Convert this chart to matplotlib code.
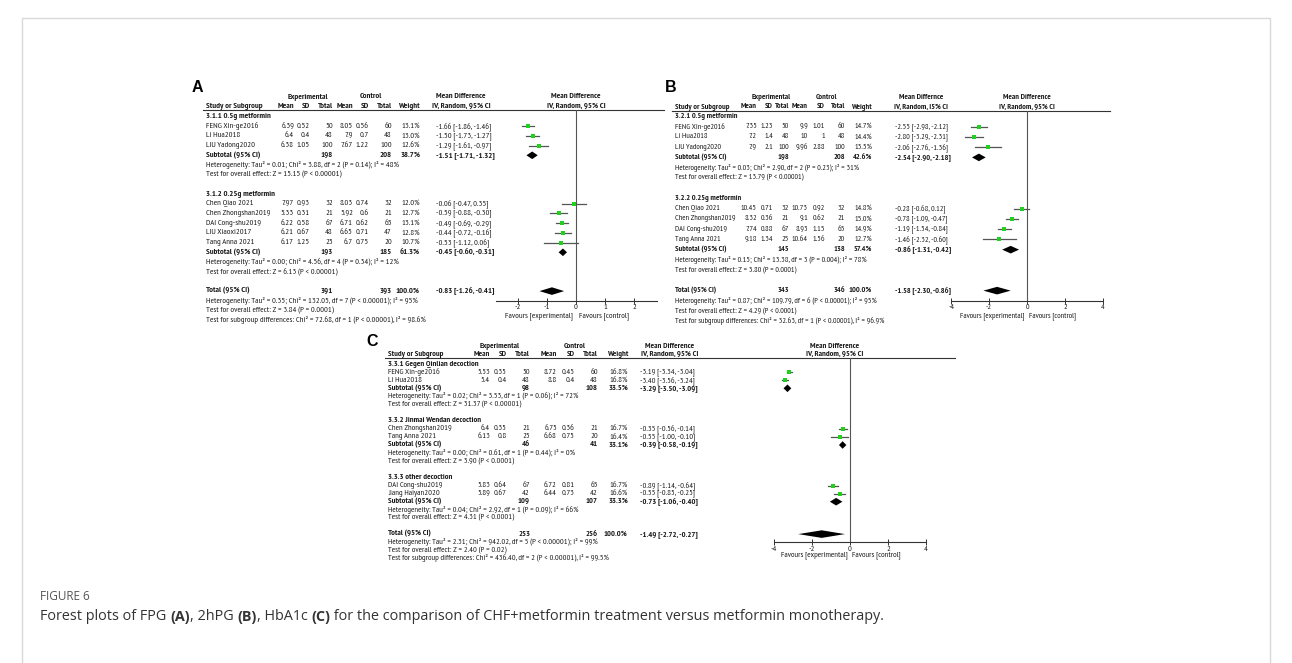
import numpy as np
import matplotlib.pyplot as plt
import matplotlib.transforms as mtransforms

plt.rcParams['axes.unicode_minus'] = False

# ---------- panel A : FPG ----------
a_groups = ["3.1.1 0.5g metformin", "3.1.2 0.25g metformin"]
a_group_n = [3, 5]
a_study = ["FENG Xin-ge2016", "Li Hua2018", "LIU Yadong2020", "Chen Qiao 2021",
           "Chen Zhongshan2019", "DAI Cong-shu2019", "LIU Xiaoxi2017", "Tang Anna 2021"]
a_exp_mean = [6.39, 6.4, 6.38, 7.97, 5.33, 6.22, 6.21, 6.17]
a_exp_sd = [0.52, 0.4, 1.05, 0.93, 0.31, 0.58, 0.67, 1.25]
a_exp_n = [50, 48, 100, 32, 21, 67, 48, 25]
a_ctl_mean = [8.05, 7.9, 7.67, 8.03, 5.92, 6.71, 6.65, 6.7]
a_ctl_sd = [0.56, 0.7, 1.22, 0.74, 0.6, 0.62, 0.71, 0.75]
a_ctl_n = [60, 48, 100, 32, 21, 65, 47, 20]
a_weight = [13.1, 13.0, 12.6, 12.0, 12.7, 13.1, 12.8, 10.7]
a_md = [-1.66, -1.50, -1.29, -0.06, -0.59, -0.49, -0.44, -0.53]
a_lo = [-1.86, -1.73, -1.61, -0.47, -0.88, -0.69, -0.72, -1.12]
a_hi = [-1.46, -1.27, -0.97, 0.35, -0.30, -0.29, -0.16, 0.06]
a_sub_exp_n = [198, 193]
a_sub_ctl_n = [208, 185]
a_sub_weight = [38.7, 61.3]
a_sub_md = [-1.51, -0.45]
a_sub_lo = [-1.71, -0.60]
a_sub_hi = [-1.32, -0.31]
a_sub_het = ["Heterogeneity: Tau² = 0.01; Chi² = 3.88, df = 2 (P = 0.14); I² = 48%",
             "Heterogeneity: Tau² = 0.00; Chi² = 4.56, df = 4 (P = 0.34); I² = 12%"]
a_sub_z = ["Test for overall effect: Z = 15.15 (P < 0.00001)",
           "Test for overall effect: Z = 6.13 (P < 0.00001)"]
a_total = [391, 393, 100.0, -0.83, -1.26, -0.41]
a_total_notes = ["Heterogeneity: Tau² = 0.35; Chi² = 132.05, df = 7 (P < 0.00001); I² = 95%",
                 "Test for overall effect: Z = 3.84 (P = 0.0001)",
                 "Test for subgroup differences: Chi² = 72.68, df = 1 (P < 0.00001), I² = 98.6%"]
a_ticks = [-2, -1, 0, 1, 2]

# ---------- panel B : 2hPG ----------
b_groups = ["3.2.1 0.5g metformin", "3.2.2 0.25g metformin"]
b_group_n = [3, 4]
b_study = ["FENG Xin-ge2016", "Li Hua2018", "LIU Yadong2020", "Chen Qiao 2021",
           "Chen Zhongshan2019", "DAI Cong-shu2019", "Tang Anna 2021"]
b_exp_mean = [7.35, 7.2, 7.9, 10.45, 8.32, 7.74, 9.18]
b_exp_sd = [1.23, 1.4, 2.1, 0.71, 0.36, 0.88, 1.34]
b_exp_n = [50, 48, 100, 32, 21, 67, 25]
b_ctl_mean = [9.9, 10, 9.96, 10.73, 9.1, 8.93, 10.64]
b_ctl_sd = [1.01, 1, 2.88, 0.92, 0.62, 1.15, 1.56]
b_ctl_n = [60, 48, 100, 32, 21, 65, 20]
b_weight = [14.7, 14.4, 13.5, 14.8, 15.0, 14.9, 12.7]
b_md = [-2.55, -2.80, -2.06, -0.28, -0.78, -1.19, -1.46]
b_lo = [-2.98, -3.29, -2.76, -0.68, -1.09, -1.54, -2.32]
b_hi = [-2.12, -2.31, -1.36, 0.12, -0.47, -0.84, -0.60]
b_sub_exp_n = [198, 145]
b_sub_ctl_n = [208, 138]
b_sub_weight = [42.6, 57.4]
b_sub_md = [-2.54, -0.86]
b_sub_lo = [-2.90, -1.31]
b_sub_hi = [-2.18, -0.42]
b_sub_het = ["Heterogeneity: Tau² = 0.03; Chi² = 2.90, df = 2 (P = 0.23); I² = 31%",
             "Heterogeneity: Tau² = 0.15; Chi² = 13.38, df = 3 (P = 0.004); I² = 78%"]
b_sub_z = ["Test for overall effect: Z = 13.79 (P < 0.00001)",
           "Test for overall effect: Z = 3.80 (P = 0.0001)"]
b_total = [343, 346, 100.0, -1.58, -2.30, -0.86]
b_total_notes = ["Heterogeneity: Tau² = 0.87; Chi² = 109.79, df = 6 (P < 0.00001); I² = 95%",
                 "Test for overall effect: Z = 4.29 (P < 0.0001)",
                 "Test for subgroup differences: Chi² = 32.63, df = 1 (P < 0.00001), I² = 96.9%"]
b_ticks = [-4, -2, 0, 2, 4]

# ---------- panel C : HbA1c ----------
c_groups = ["3.3.1 Gegen Qinlian decoction", "3.3.2 Jinmai Wendan decoction", "3.3.3 other decoction"]
c_group_n = [2, 2, 2]
c_study = ["FENG Xin-ge2016", "Li Hua2018", "Chen Zhongshan2019", "Tang Anna 2021",
           "DAI Cong-shu2019", "Jiang Haiyan2020"]
c_exp_mean = [5.53, 5.4, 6.4, 6.13, 5.83, 5.89]
c_exp_sd = [0.35, 0.4, 0.35, 0.8, 0.64, 0.67]
c_exp_n = [50, 48, 21, 25, 67, 42]
c_ctl_mean = [8.72, 8.8, 6.75, 6.68, 6.72, 6.44]
c_ctl_sd = [0.45, 0.4, 0.36, 0.75, 0.81, 0.73]
c_ctl_n = [60, 48, 21, 20, 65, 42]
c_weight = [16.8, 16.8, 16.7, 16.4, 16.7, 16.6]
c_md = [-3.19, -3.40, -0.35, -0.55, -0.89, -0.55]
c_lo = [-3.34, -3.56, -0.56, -1.00, -1.14, -0.85]
c_hi = [-3.04, -3.24, -0.14, -0.10, -0.64, -0.25]
c_sub_exp_n = [98, 46, 109]
c_sub_ctl_n = [108, 41, 107]
c_sub_weight = [33.5, 33.1, 33.3]
c_sub_md = [-3.29, -0.39, -0.73]
c_sub_lo = [-3.50, -0.58, -1.06]
c_sub_hi = [-3.09, -0.19, -0.40]
c_sub_het = ["Heterogeneity: Tau² = 0.02; Chi² = 3.53, df = 1 (P = 0.06); I² = 72%",
             "Heterogeneity: Tau² = 0.00; Chi² = 0.61, df = 1 (P = 0.44); I² = 0%",
             "Heterogeneity: Tau² = 0.04; Chi² = 2.92, df = 1 (P = 0.09); I² = 66%"]
c_sub_z = ["Test for overall effect: Z = 31.37 (P < 0.00001)",
           "Test for overall effect: Z = 3.90 (P < 0.0001)",
           "Test for overall effect: Z = 4.31 (P < 0.0001)"]
c_total = [253, 256, 100.0, -1.49, -2.72, -0.27]
c_total_notes = ["Heterogeneity: Tau² = 2.31; Chi² = 942.02, df = 5 (P < 0.00001); I² = 99%",
                 "Test for overall effect: Z = 2.40 (P = 0.02)",
                 "Test for subgroup differences: Chi² = 436.40, df = 2 (P < 0.00001), I² = 99.5%"]
c_ticks = [-4, -2, 0, 2, 4]

W, H = 1292, 663
NARROW = ['Liberation Sans Narrow', 'Arial Narrow', 'PT Sans Narrow', 'Archivo Narrow',
          'Roboto Condensed', 'IBM Plex Sans Condensed', 'DejaVu Sans']
INK = '#1a1a1a'

fig = plt.figure(figsize=(W / 100, H / 100), dpi=100)
bg = fig.add_axes([0, 0, 1, 1])
bg.set_xlim(0, W)
bg.set_ylim(H, 0)
bg.axis('off')


def txt(x, y, s, size, ha='left', bold=False):
    bg.text(x, y, s, ha=ha, va='center', fontsize=size, family=NARROW,
            fontweight='bold' if bold else 'normal', color=INK)


def diamond(ax, md, lo, hi, y, h=3.8):
    ax.fill([lo, md, hi, md], [y, y - h, y, y + h], color='black', lw=0, clip_on=False)


def draw_panel(d, L):
    fs = L['fs']
    zero, unit = L['zero'], L['unit']
    xmin, xmax = L['xlim']
    step, y0 = L['step'], L['y0']
    n_rows = sum(d['group_n']) + 5 * len(d['group_n'])
    y_total = y0 + step * n_rows
    axis_y = y_total + step
    top = L['line_y']

    ax = fig.add_axes([(zero + unit * xmin) / W, 1 - axis_y / H,
                       unit * (xmax - xmin) / W, (axis_y - top) / H])
    ax.set_xlim(xmin, xmax)
    ax.set_ylim(axis_y, top)
    ax.patch.set_alpha(0)
    for sp in ['top', 'left', 'right']:
        ax.spines[sp].set_visible(False)
    ax.spines['bottom'].set_bounds(*L['spine'])
    ax.spines['bottom'].set_linewidth(0.8)
    ax.spines['bottom'].set_color('#333333')
    ax.set_yticks([])
    ax.set_xticks(d['ticks'])
    ax.set_xticklabels([str(t) for t in d['ticks']], family=NARROW, fontsize=fs, color=INK)
    ax.tick_params(axis='x', direction='inout', length=4, width=0.7, pad=0.5, color='#333333')
    ax.axvline(0, color='#555555', lw=0.8)

    blend = mtransforms.blended_transform_factory(ax.transData, bg.transData)
    ax.text(-0.12, axis_y + L['fav_dy'], "Favours [experimental]", transform=blend, ha='right',
            va='center', fontsize=fs, family=NARROW, color=INK)
    ax.text(0.12, axis_y + L['fav_dy'], "Favours [control]", transform=blend, ha='left',
            va='center', fontsize=fs, family=NARROW, color=INK)

    # panel label
    lab, lx, ly = L['label']
    bg.text(lx, ly, lab, ha='center', va='center', fontsize=11.5, fontweight='bold',
            family=['Liberation Sans', 'DejaVu Sans'], color='black')

    # column headers
    x0 = L['x0']
    c = L['cols']
    txt(L['exp_c'], L['h1'], "Experimental", fs, ha='center', bold=True)
    txt(L['ctl_c'], L['h1'], "Control", fs, ha='center', bold=True)
    txt(L['md_c'], L['h1'], L['md_head'][0], fs, ha='center', bold=True)
    txt(L['graph_c'], L['h1'], "Mean Difference", fs, ha='center', bold=True)
    txt(x0, L['h2'], "Study or Subgroup", fs, bold=True)
    for xr, s in zip(c, ["Mean", "SD", "Total", "Mean", "SD", "Total", "Weight"]):
        txt(xr, L['h2'], s, fs, ha='right', bold=True)
    txt(L['md_c'], L['h2'], L['md_head'][1], fs, ha='center', bold=True)
    txt(L['graph_c'], L['h2'], "IV, Random, 95% CI", fs, ha='center', bold=True)
    bg.plot(L['line_x'], [top, top], color='#333333', lw=0.8)

    k = 0
    s = 0
    for g, n in enumerate(d['group_n']):
        txt(x0, y0 + step * k, d['groups'][g], fs, bold=True)
        k += 1
        for j in range(s, s + n):
            y = y0 + step * k
            txt(x0, y, d['study'][j], fs)
            vals = [f"{d['exp_mean'][j]:g}", f"{d['exp_sd'][j]:g}", str(d['exp_n'][j]),
                    f"{d['ctl_mean'][j]:g}", f"{d['ctl_sd'][j]:g}", str(d['ctl_n'][j]),
                    f"{d['weight'][j]:.1f}%"]
            for xr, v in zip(c, vals):
                txt(xr, y, v, fs, ha='right')
            txt(L['ci_x'], y, f"{d['md'][j]:.2f} [{d['lo'][j]:.2f}, {d['hi'][j]:.2f}]", fs)
            ax.plot([d['lo'][j], d['hi'][j]], [y, y], color='#555555', lw=0.9, clip_on=False)
            ms = 2.5 * np.sqrt(d['weight'][j] / 13.0)
            ax.plot(d['md'][j], y, 's', color='#1fd01f', ms=ms, mew=0, clip_on=False)
            k += 1
        s += n
        y = y0 + step * k
        txt(x0, y, "Subtotal (95% CI)", fs, bold=True)
        txt(c[2], y, str(d['sub_exp_n'][g]), fs, ha='right', bold=True)
        txt(c[5], y, str(d['sub_ctl_n'][g]), fs, ha='right', bold=True)
        txt(c[6], y, f"{d['sub_weight'][g]:.1f}%", fs, ha='right', bold=True)
        txt(L['ci_x'], y, f"{d['sub_md'][g]:.2f} [{d['sub_lo'][g]:.2f}, {d['sub_hi'][g]:.2f}]", fs,
            bold=True)
        diamond(ax, d['sub_md'][g], d['sub_lo'][g], d['sub_hi'][g], y)
        k += 1
        txt(x0, y0 + step * k, d['sub_het'][g], fs)
        k += 1
        txt(x0, y0 + step * k, d['sub_z'][g], fs)
        k += 2

    y = y0 + step * k
    en, cn, w, md, lo, hi = d['total']
    txt(x0, y, "Total (95% CI)", fs, bold=True)
    txt(c[2], y, str(en), fs, ha='right', bold=True)
    txt(c[5], y, str(cn), fs, ha='right', bold=True)
    txt(c[6], y, f"{w:.1f}%", fs, ha='right', bold=True)
    txt(L['ci_x'], y, f"{md:.2f} [{lo:.2f}, {hi:.2f}]", fs, bold=True)
    diamond(ax, md, lo, hi, y)
    for note in d['total_notes']:
        k += 1
        txt(x0, y0 + step * k, note, fs)


def pack(p):
    g = globals()
    keys = ['groups', 'group_n', 'study', 'exp_mean', 'exp_sd', 'exp_n', 'ctl_mean', 'ctl_sd',
            'ctl_n', 'weight', 'md', 'lo', 'hi', 'sub_exp_n', 'sub_ctl_n', 'sub_weight', 'sub_md',
            'sub_lo', 'sub_hi', 'sub_het', 'sub_z', 'total', 'total_notes', 'ticks']
    return {k: g[f"{p}_{k}"] for k in keys}


LA = dict(fs=6.1, label=('A', 197, 88), x0=206, cols=[294, 310, 333, 353, 369, 392, 420],
          ci_x=436, md_c=461, md_head=("Mean Difference", "IV, Random, 95% CI"), exp_c=308,
          ctl_c=371, h1=97, h2=106, line_y=110, line_x=(203, 664), y0=116.5, step=9.7, zero=576,
          unit=29, xlim=(-2.75, 3.0), spine=(-2.75, 2.8), graph_c=576, fav_dy=15)
LB = dict(fs=5.9, label=('B', 671, 87), x0=675, cols=[757, 773, 789, 808, 825, 845, 872],
          ci_x=895, md_c=921, md_head=("Mean Differnce", "IV, Random, I5% CI"), exp_c=771,
          ctl_c=826, h1=97.5, h2=107, line_y=110.5, line_x=(672, 1110), y0=116.4, step=10.25,
          zero=1027, unit=18.95, xlim=(-4.2, 4.4), spine=(-4, 4), graph_c=1027, fav_dy=15)
LC = dict(fs=6.0, label=('C', 372, 341), x0=388, cols=[490, 507, 530, 557, 575, 598, 628],
          ci_x=640, md_c=670, md_head=("Mean Difference", "IV, Random, 95% CI"), exp_c=500,
          ctl_c=575, h1=346, h2=354, line_y=357.5, line_x=(385, 955), y0=364, step=8.1, zero=850,
          unit=19, xlim=(-4.5, 5.5), spine=(-4, 4), graph_c=835, fav_dy=13)

draw_panel(pack('a'), LA)
draw_panel(pack('b'), LB)
draw_panel(pack('c'), LC)

# frame around the figure block
bg.plot([22, 22, 1270, 1270], [H, 18, 18, H], color='#d9d9d9', lw=1.0)

# caption
bg.text(40, 596, "FIGURE 6", fontsize=8.5, color='#555555', va='center',
        family=['Open Sans', 'DejaVu Sans'])
renderer = fig.canvas.get_renderer()
x = 40
parts = [("Forest plots of FPG ", 'normal'), ("(A)", 'bold'), (", 2hPG ", 'normal'), ("(B)", 'bold'),
         (", HbA1c ", 'normal'), ("(C)", 'bold'),
         (" for the comparison of CHF+metformin treatment versus metformin monotherapy.", 'normal')]
for s, wt in parts:
    t = bg.text(x, 617, s, fontsize=10.4, fontweight=wt, color='#333333', va='center',
                family=['Open Sans', 'DejaVu Sans'])
    x += t.get_window_extent(renderer=renderer).width

fig.savefig('out.png', dpi=100)
